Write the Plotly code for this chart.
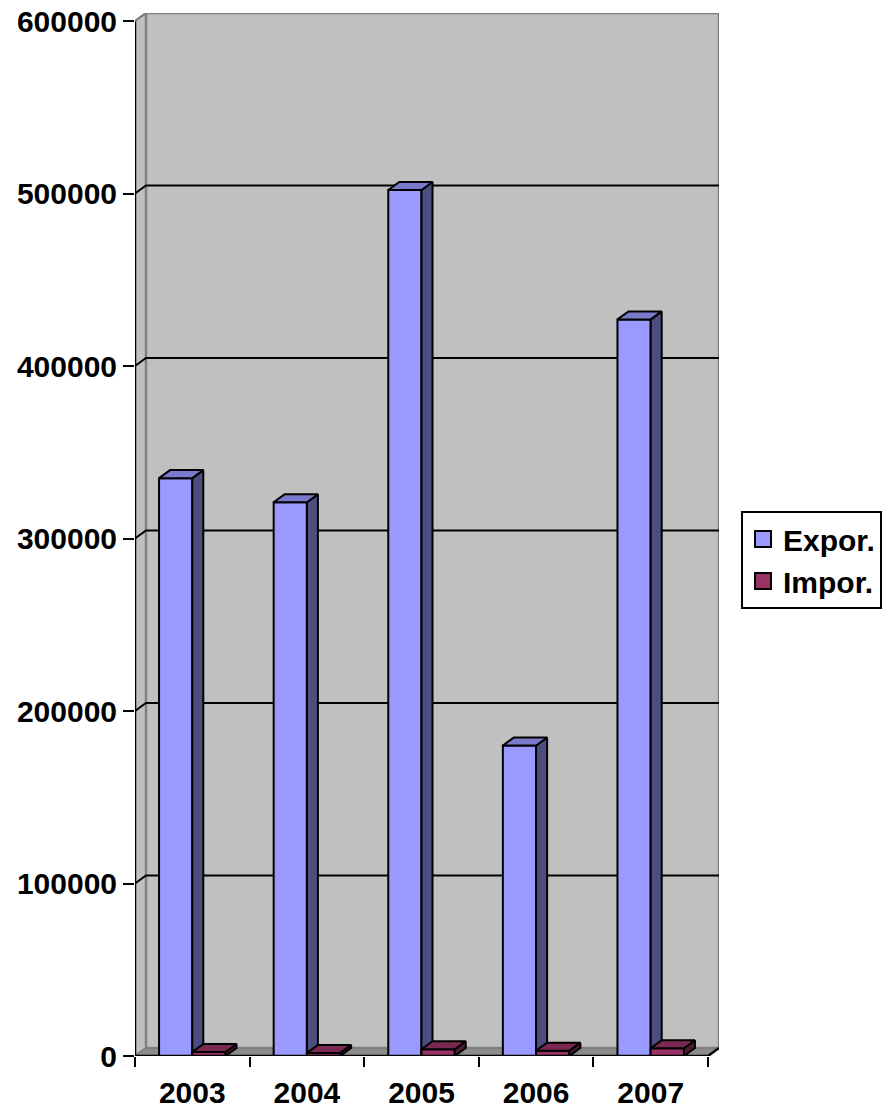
import plotly.graph_objects as go

years = ["2003", "2004", "2005", "2006", "2007"]
expor = [335000, 321000, 502000, 180000, 427000]
impor = [2300, 1800, 3900, 3100, 4500]
y_ticks = [0, 100000, 200000, 300000, 400000, 500000, 600000]

# 3-D look parameters (depth offsets in data units)
DX = 0.096
DY = 4640
W = 0.29
YMAX = 600000

FONT = dict(family="Liberation Sans, Arial, sans-serif", color="black", weight="bold")

series = [
    dict(name="Expor.", vals=expor, off=-W, front="#9999FF", side="#4D4D80", top="#7A7ACC"),
    dict(name="Impor.", vals=impor, off=0.0, front="#993366", side="#4D1A33", top="#7A2952"),
]

fig = go.Figure()

for s in series:
    fx, fy, sx, sy, tx, ty = [], [], [], [], [], []
    for i, v in enumerate(s["vals"]):
        x0 = i + s["off"]
        x1 = x0 + W
        fx += [x0, x1, x1, x0, x0, None]
        fy += [0, 0, v, v, 0, None]
        sx += [x1, x1 + DX, x1 + DX, x1, x1, None]
        sy += [0, DY, v + DY, v, 0, None]
        tx += [x0, x1, x1 + DX, x0 + DX, x0, None]
        ty += [v, v, v + DY, v + DY, v, None]
    for xs, ys, col in [(fx, fy, s["front"]), (sx, sy, s["side"]), (tx, ty, s["top"])]:
        fig.add_trace(go.Scatter(x=xs, y=ys, mode="lines", fill="toself", fillcolor=col,
                                 line=dict(color="black", width=2), showlegend=False,
                                 hoverinfo="skip"))
    # legend entry
    fig.add_trace(go.Scatter(x=[None], y=[None], mode="markers", name=s["name"],
                             marker=dict(symbol="square", size=16, color=s["front"],
                                         line=dict(color="black", width=2))))

shapes = []
# left wall
shapes.append(dict(type="path", xref="x", yref="y", layer="below",
                   path=f"M -0.5 0 L -0.5 {YMAX} L {-0.5+DX} {YMAX+DY} L {-0.5+DX} {DY} Z",
                   fillcolor="#C0C0C0", line=dict(color="#808080", width=2)))
# floor
shapes.append(dict(type="path", xref="x", yref="y", layer="below",
                   path=f"M -0.5 0 L 4.5 0 L {4.5+DX} {DY} L {-0.5+DX} {DY} Z",
                   fillcolor="#8C8C8C", line=dict(color="#808080", width=1.5)))
# back wall
shapes.append(dict(type="rect", xref="x", yref="y", layer="below",
                   x0=-0.5 + DX, x1=4.5 + DX, y0=DY, y1=YMAX + DY,
                   fillcolor="#C0C0C0", line=dict(color="#808080", width=2.5)))
# gridlines
for v in y_ticks[1:-1]:
    shapes.append(dict(type="path", xref="x", yref="y", layer="below",
                       path=f"M -0.5 {v} L {-0.5+DX} {v+DY} L {4.5+DX} {v+DY}",
                       line=dict(color="black", width=2)))
# axis lines
shapes.append(dict(type="line", xref="x", yref="y", x0=-0.5, x1=-0.5, y0=0, y1=YMAX,
                   line=dict(color="black", width=2.5)))
shapes.append(dict(type="path", xref="x", yref="y",
                   path=f"M -0.5 0 L 4.5 0 L {4.5+DX} {DY}",
                   line=dict(color="black", width=2.5)))
shapes.append(dict(type="line", xref="x", yref="y", x0=-0.5, x1=-0.5 + DX, y0=YMAX, y1=YMAX + DY,
                   line=dict(color="#808080", width=2)))

fig.update_layout(
    width=886, height=1112,
    margin=dict(l=135, r=167, t=13, b=56, autoexpand=False),
    paper_bgcolor="white", plot_bgcolor="white",
    font=dict(size=30, **FONT),
    shapes=shapes,
    showlegend=True,
    legend=dict(x=1.0377, y=0.5225, xanchor="left", yanchor="top",
                bgcolor="white", bordercolor="black", borderwidth=2,
                font=dict(size=30, **FONT), itemsizing="trace", tracegroupgap=0),
    xaxis=dict(range=[-0.5, 4.5 + DX], tickmode="array", tickvals=list(range(len(years))),
               ticktext=years, ticks="", showgrid=False, zeroline=False, showline=False,
               ticklabelstandoff=16, automargin=False,
               minor=dict(tickmode="array", tickvals=[i - 0.5 for i in range(len(years) + 1)],
                          ticks="outside", ticklen=10, tickwidth=2, tickcolor="black",
                          showgrid=False),
               fixedrange=True),
    yaxis=dict(range=[0, YMAX + DY], tickmode="array", tickvals=y_ticks,
               ticktext=[str(v) for v in y_ticks], ticks="outside", ticklen=11, tickwidth=2,
               tickcolor="black", showgrid=False, zeroline=False, showline=False,
               automargin=False, fixedrange=True),
)

fig.write_html("out.html", config={"displayModeBar": False},
               post_script="document.body.style.margin='0';document.body.style.overflow='hidden';")
